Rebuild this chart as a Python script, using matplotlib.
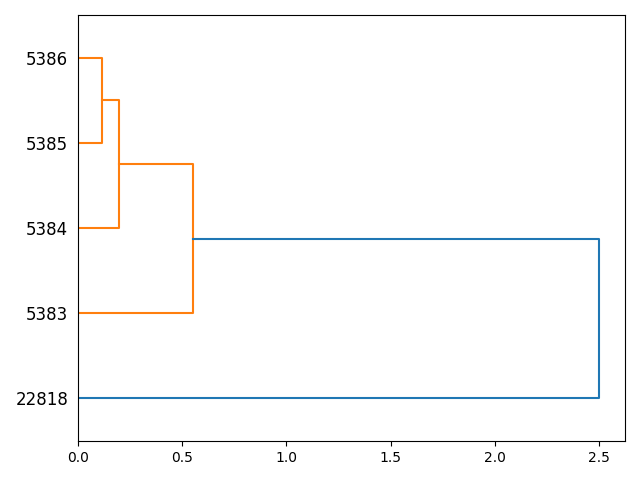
import matplotlib
matplotlib.use("Agg")
import matplotlib.pyplot as plt

# Leaf labels (bottom to top)
labels = ["22818", "5383", "5384", "5385", "5386"]
# Linkage: (left child, right child, distance); leaves 0..4 by label index above
merges = [(3, 4, 0.115), (2, 5, 0.197), (1, 6, 0.552), (0, 7, 2.5)]
merge_colors = ["C1", "C1", "C1", "C0"]

fig, ax = plt.subplots(figsize=(6.4, 4.8), dpi=100)
fig.subplots_adjust(left=0.1219, right=0.9766, top=0.96875, bottom=0.08125)

pos = {i: 5 + 10 * i for i in range(len(labels))}
height = {i: 0.0 for i in range(len(labels))}
for k, (a, b, d) in enumerate(merges):
    node = len(labels) + k
    ya, yb = pos[a], pos[b]
    xa, xb = height[a], height[b]
    ax.plot([xa, d, d, xb], [ya, ya, yb, yb], color=merge_colors[k], lw=1.5)
    pos[node] = (ya + yb) / 2
    height[node] = d

ax.set_ylim(0, 10 * len(labels))
ax.set_xlim(0, max(m[2] for m in merges) * 1.05)
ax.set_yticks([5 + 10 * i for i in range(len(labels))])
ax.set_yticklabels(labels, fontsize=12)
for line in ax.get_yticklines():
    line.set_visible(False)
fig.savefig("out.png")
